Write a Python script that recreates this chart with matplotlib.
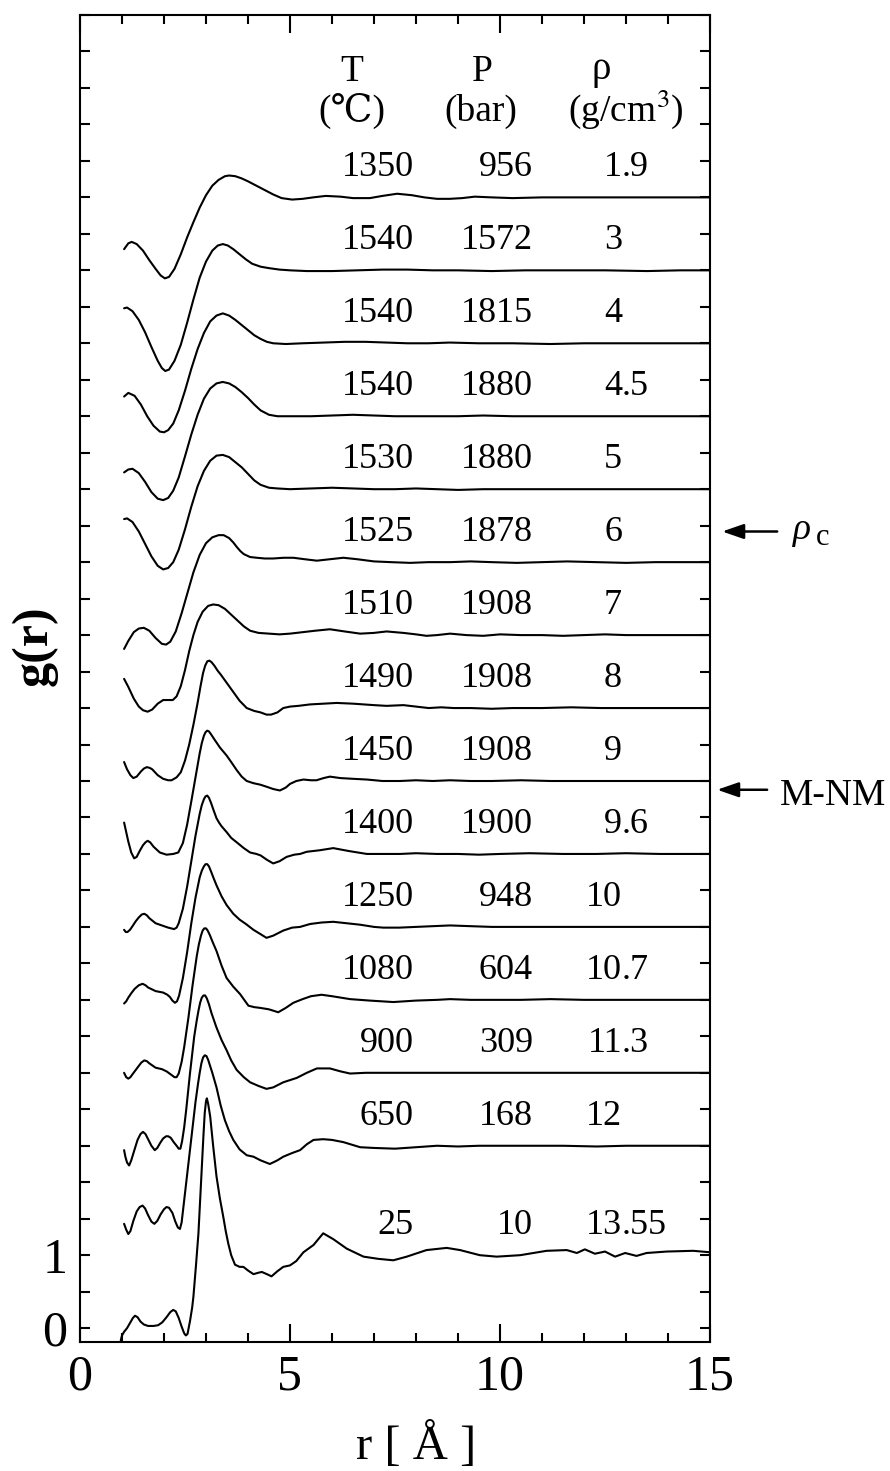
import numpy as np
import matplotlib
matplotlib.use("Agg")
import matplotlib.pyplot as plt
from matplotlib.ticker import MultipleLocator, FuncFormatter

plt.rcParams['font.family'] = ['Liberation Serif', 'DejaVu Serif']
plt.rcParams['mathtext.fontset'] = 'stix'

# ---------------- data ----------------
T_vals = ['1350', '1540', '1540', '1540', '1530', '1525', '1510', '1490',
          '1450', '1400', '1250', '1080', '900', '650', '25']
P_vals = ['956', '1572', '1815', '1880', '1880', '1878', '1908', '1908',
          '1908', '1900', '948', '604', '309', '168', '10']
rho_vals = ['1.9', '3', '4', '4.5', '5', '6', '7', '8', '9', '9.6', '10',
            '10.7', '11.3', '12', '13.55']
offsets = [14.5, 13.5, 12.5, 11.5, 10.5, 9.5, 8.5, 7.5, 6.5, 5.5, 4.5, 3.5,
           2.5, 1.5, 0.0]

g_1350 = [(1.05, 0.29), (1.15, 0.37), (1.23, 0.39), (1.35, 0.36), (1.5, 0.27),
          (1.65, 0.14), (1.8, 0.02), (1.92, -0.07), (2.02, -0.11), (2.12, -0.09),
          (2.25, 0.02), (2.4, 0.22), (2.55, 0.45), (2.7, 0.66), (2.85, 0.86),
          (3.0, 1.03), (3.15, 1.16), (3.3, 1.24), (3.45, 1.29), (3.55, 1.30),
          (3.7, 1.29), (3.85, 1.26), (4.0, 1.22), (4.2, 1.16), (4.4, 1.10),
          (4.6, 1.04), (4.8, 0.99), (5.05, 0.97), (5.3, 0.98), (5.55, 1.00),
          (5.85, 1.02), (6.2, 1.01), (6.5, 0.99), (6.9, 0.99), (7.2, 1.02),
          (7.55, 1.05), (7.9, 1.03), (8.2, 1.00), (8.5, 0.98), (8.8, 0.98),
          (9.1, 0.99), (9.4, 1.01), (9.8, 1.00), (10.3, 0.99), (11.0, 1.00),
          (11.8, 1.00), (12.5, 1.00), (13.2, 1.00), (14.0, 1.00), (15.0, 1.00)]

g_1540a = [(1.05, 0.48), (1.12, 0.49), (1.25, 0.44), (1.4, 0.32), (1.55, 0.15),
           (1.7, -0.05), (1.85, -0.24), (1.95, -0.34), (2.03, -0.38), (2.12, -0.36),
           (2.25, -0.24), (2.4, -0.02), (2.55, 0.28), (2.7, 0.60), (2.85, 0.90),
           (3.0, 1.12), (3.15, 1.27), (3.28, 1.34), (3.4, 1.36), (3.52, 1.34),
           (3.65, 1.29), (3.8, 1.22), (3.95, 1.15), (4.1, 1.09), (4.3, 1.05),
           (4.5, 1.03), (4.75, 1.01), (5.0, 1.00), (5.4, 0.99), (6.0, 0.99),
           (6.6, 1.00), (7.2, 1.01), (7.8, 1.01), (8.4, 1.00), (9.0, 1.00),
           (9.8, 0.99), (10.6, 1.00), (11.5, 1.00), (12.5, 1.00), (13.5, 0.99),
           (14.3, 1.00), (15.0, 1.00)]

g_1540b = [(1.05, 0.27), (1.15, 0.32), (1.3, 0.28), (1.45, 0.16), (1.6, 0.00),
           (1.75, -0.13), (1.9, -0.21), (2.0, -0.22), (2.1, -0.19), (2.22, -0.10),
           (2.35, 0.08), (2.5, 0.35), (2.65, 0.65), (2.8, 0.92), (2.95, 1.14),
           (3.1, 1.30), (3.25, 1.38), (3.4, 1.41), (3.55, 1.38), (3.7, 1.32),
           (3.85, 1.25), (4.0, 1.18), (4.15, 1.11), (4.3, 1.06), (4.45, 1.02),
           (4.6, 1.00), (4.9, 0.99), (5.3, 1.00), (5.8, 1.01), (6.3, 1.02),
           (6.8, 1.02), (7.3, 1.01), (7.8, 1.00), (8.3, 1.00), (8.8, 1.01),
           (9.5, 1.00), (10.3, 1.00), (11.2, 0.99), (12.0, 1.00), (13.0, 1.00),
           (14.0, 1.00), (15.0, 1.00)]

g_1540c = [(1.05, 0.23), (1.15, 0.27), (1.25, 0.28), (1.4, 0.22), (1.55, 0.10),
           (1.7, -0.04), (1.85, -0.13), (1.98, -0.15), (2.1, -0.12), (2.22, -0.02),
           (2.35, 0.16), (2.5, 0.45), (2.65, 0.75), (2.8, 1.02), (2.95, 1.24),
           (3.1, 1.38), (3.25, 1.45), (3.4, 1.47), (3.55, 1.45), (3.7, 1.40),
           (3.85, 1.33), (4.0, 1.25), (4.15, 1.16), (4.3, 1.08), (4.5, 1.02),
           (4.7, 1.00), (5.0, 1.00), (5.5, 1.00), (6.0, 1.01), (6.5, 1.02),
           (7.0, 1.01), (7.5, 1.00), (8.0, 1.00), (8.5, 1.00), (9.0, 1.00),
           (9.6, 1.01), (10.3, 1.00), (11.0, 1.00), (12.0, 1.00), (13.0, 1.00),
           (14.0, 1.00), (15.0, 1.00)]

g_1530 = [(1.05, 0.59), (1.12, 0.60), (1.25, 0.55), (1.4, 0.42), (1.55, 0.25),
          (1.7, 0.08), (1.85, -0.05), (1.98, -0.10), (2.1, -0.08), (2.22, 0.00),
          (2.35, 0.17), (2.5, 0.45), (2.65, 0.76), (2.8, 1.04), (2.95, 1.25),
          (3.1, 1.39), (3.25, 1.46), (3.4, 1.47), (3.55, 1.44), (3.7, 1.37),
          (3.85, 1.30), (4.0, 1.21), (4.15, 1.12), (4.3, 1.06), (4.5, 1.02),
          (4.7, 1.01), (5.0, 1.00), (5.5, 1.01), (6.0, 1.02), (6.5, 1.01),
          (7.0, 1.00), (7.5, 1.00), (8.0, 1.01), (8.5, 1.00), (9.0, 0.99),
          (9.6, 1.00), (10.3, 1.00), (11.0, 1.00), (12.0, 1.00), (13.0, 1.00),
          (14.0, 1.00), (15.0, 1.00)]

g_1525 = [(1.05, -0.19), (1.15, -0.08), (1.28, 0.04), (1.4, 0.09), (1.52, 0.10),
          (1.65, 0.06), (1.8, -0.04), (1.95, -0.12), (2.05, -0.13), (2.15, -0.09),
          (2.28, 0.05), (2.42, 0.30), (2.56, 0.58), (2.7, 0.86), (2.85, 1.10),
          (3.0, 1.26), (3.15, 1.34), (3.3, 1.37), (3.42, 1.37), (3.55, 1.33),
          (3.65, 1.27), (3.73, 1.21), (3.82, 1.15), (3.9, 1.11), (4.05, 1.07),
          (4.21, 1.06), (4.4, 1.05),
          (4.6, 1.05), (4.85, 1.06), (5.08, 1.06), (5.35, 1.04), (5.64, 1.02),
          (5.95, 1.04), (6.27, 1.06), (6.6, 1.04), (7.0, 1.01), (7.4, 1.00),
          (7.86, 0.99), (8.3, 1.00), (8.81, 1.00), (9.3, 1.01), (9.8, 1.00),
          (10.4, 0.99), (11.0, 1.00), (11.6, 1.01), (12.3, 1.00), (13.0, 0.99),
          (13.7, 1.00), (14.4, 1.00), (15.0, 1.00)]

g_1510 = [(1.05, 0.40), (1.15, 0.29), (1.28, 0.13), (1.4, 0.02), (1.5, -0.03),
          (1.61, -0.05), (1.72, -0.02), (1.85, 0.06), (1.98, 0.11), (2.1, 0.11),
          (2.21, 0.11), (2.3, 0.16), (2.4, 0.30), (2.5, 0.52), (2.6, 0.78),
          (2.7, 1.00), (2.8, 1.18), (2.92, 1.32), (3.05, 1.40), (3.17, 1.42),
          (3.3, 1.41), (3.45, 1.36), (3.6, 1.28), (3.75, 1.20), (3.9, 1.12),
          (4.05, 1.06), (4.25, 1.03), (4.5, 1.02), (4.75, 1.01), (5.0, 1.02),
          (5.3, 1.04), (5.6, 1.06), (5.95, 1.08), (6.3, 1.05), (6.67, 1.02),
          (7.0, 1.03), (7.3, 1.05), (7.7, 1.03), (8.0, 1.01), (8.25, 0.99),
          (8.5, 1.00), (8.81, 1.02), (9.2, 1.00), (9.6, 0.99), (10.0, 1.01),
          (10.5, 1.00), (11.0, 1.00), (11.5, 0.99), (12.0, 1.00), (12.5, 1.01),
          (13.0, 1.00), (13.5, 1.00), (14.0, 1.00), (14.5, 1.00), (15.0, 1.00)]

g_1490 = [(1.05, 0.26), (1.12, 0.16), (1.2, 0.08), (1.27, 0.04), (1.35, 0.06),
          (1.45, 0.13), (1.52, 0.17), (1.59, 0.19), (1.66, 0.18), (1.72, 0.16),
          (1.85, 0.08), (1.98, 0.03),
          (2.1, 0.01), (2.18, 0.01), (2.3, 0.05), (2.4, 0.12), (2.5, 0.28),
          (2.6, 0.50), (2.7, 0.77), (2.8, 1.07), (2.87, 1.30), (2.93, 1.48),
          (2.98, 1.58), (3.03, 1.64), (3.08, 1.65), (3.13, 1.63), (3.2, 1.58),
          (3.28, 1.51), (3.35, 1.46), (3.5, 1.34),
          (3.65, 1.22), (3.8, 1.10), (3.97, 1.00), (4.15, 0.96), (4.3, 0.94),
          (4.44, 0.91), (4.55, 0.91), (4.7, 0.94), (4.84, 1.00), (5.0, 1.02),
          (5.2, 1.03), (5.48, 1.05), (5.8, 1.06), (6.11, 1.07), (6.5, 1.06),
          (7.0, 1.04), (7.3, 1.03), (7.7, 1.04), (8.0, 1.02), (8.3, 1.00),
          (8.6, 1.01), (8.9, 1.00), (9.3, 1.00), (9.8, 0.99), (10.3, 1.00),
          (11.0, 1.00), (11.7, 1.01), (12.4, 1.00), (13.2, 1.00), (14.0, 1.00),
          (15.0, 1.00)]

g_1450 = [(1.05, 0.43), (1.1, 0.30), (1.15, 0.17), (1.22, 0.02), (1.29, -0.06),
          (1.35, -0.04), (1.42, 0.04), (1.5, 0.12), (1.56, 0.16),
          (1.61, 0.18), (1.67, 0.16), (1.75, 0.10), (1.9, 0.02), (2.06, -0.01),
          (2.22, 0.00), (2.34, 0.02), (2.45, 0.15), (2.55, 0.40), (2.65, 0.72),
          (2.75, 1.05), (2.85, 1.38), (2.9, 1.52), (2.95, 1.62), (2.99, 1.67),
          (3.03, 1.69), (3.07, 1.68), (3.12, 1.64), (3.2, 1.57),
          (3.33, 1.46), (3.49, 1.35), (3.6, 1.26), (3.73, 1.15), (3.85, 1.06),
          (3.97, 1.00), (4.13, 0.97), (4.29, 0.95), (4.45, 0.92), (4.6, 0.89),
          (4.76, 0.87), (4.9, 0.91), (5.0, 0.96), (5.15, 1.00), (5.32, 1.02),
          (5.5, 1.01), (5.63, 1.01), (5.8, 1.04), (5.95, 1.06), (6.2, 1.04),
          (6.5, 1.03), (6.83, 1.02), (7.2, 1.00), (7.62, 1.00), (8.0, 1.01),
          (8.4, 1.00), (8.81, 1.01), (9.3, 1.00), (9.8, 1.00), (10.5, 1.01),
          (11.2, 1.00), (12.0, 1.00), (12.8, 1.00), (13.6, 1.00), (14.3, 1.00),
          (15.0, 1.00)]

g_1400 = [(1.05, -0.04), (1.09, -0.07), (1.13, -0.07), (1.19, -0.04), (1.25, 0.01),
          (1.33, 0.08), (1.4, 0.13), (1.47, 0.17), (1.53, 0.18), (1.59, 0.16),
          (1.65, 0.12), (1.8, 0.05), (1.95, 0.02), (2.1, -0.01), (2.24, -0.03),
          (2.3, -0.01), (2.35, 0.05), (2.45, 0.25), (2.55, 0.55), (2.65, 0.90),
          (2.75, 1.25), (2.85, 1.55), (2.9, 1.67), (2.95, 1.75), (2.99, 1.79),
          (3.03, 1.80), (3.07, 1.77), (3.12, 1.70), (3.18, 1.60), (3.25, 1.49),
          (3.31, 1.43), (3.37, 1.38), (3.49, 1.30), (3.6, 1.22), (3.73, 1.16),
          (3.9, 1.08), (4.05, 1.02), (4.2, 1.00), (4.3, 0.98), (4.45, 0.92),
          (4.6, 0.87), (4.75, 0.90), (4.92, 0.96), (5.1, 0.99), (5.24, 1.00),
          (5.4, 1.03), (5.7, 1.05), (6.03, 1.08), (6.4, 1.04), (6.83, 1.00),
          (7.2, 1.00), (7.62, 1.00), (8.0, 1.01), (8.5, 1.00), (9.0, 1.00),
          (9.5, 0.99), (10.0, 1.00), (10.7, 1.01), (11.5, 1.00), (12.3, 1.00),
          (13.0, 1.01), (13.8, 1.00), (14.5, 1.00), (15.0, 1.00)]

g_1250 = [(1.05, -0.05), (1.1, -0.02), (1.15, 0.03), (1.22, 0.09), (1.3, 0.15),
          (1.4, 0.20), (1.49, 0.22), (1.56, 0.20), (1.62, 0.17), (1.8, 0.12),
          (1.98, 0.10), (2.08, 0.07), (2.14, 0.04), (2.2, -0.01), (2.26, -0.04),
          (2.31, -0.02), (2.36, 0.06), (2.45, 0.30), (2.55, 0.65), (2.65, 1.05),
          (2.75, 1.40), (2.85, 1.68), (2.9, 1.77), (2.95, 1.83), (2.99, 1.86),
          (3.03, 1.86), (3.07, 1.83), (3.12, 1.76), (3.18, 1.67), (3.25, 1.57),
          (3.37, 1.42), (3.49, 1.30), (3.65, 1.18), (3.8, 1.10), (3.95, 1.04),
          (4.13, 0.96), (4.3, 0.90), (4.44, 0.85), (4.6, 0.88), (4.84, 0.95),
          (5.05, 0.99), (5.24, 1.00), (5.48, 1.04), (5.75, 1.06), (6.03, 1.07),
          (6.35, 1.05), (6.67, 1.03), (7.0, 1.00), (7.22, 0.99), (7.6, 0.99),
          (8.0, 1.00), (8.4, 1.01), (8.81, 1.02), (9.3, 1.01), (9.8, 1.00),
          (10.4, 1.00), (11.0, 1.00), (11.7, 1.00), (12.4, 1.00), (13.2, 1.00),
          (14.0, 1.00), (15.0, 1.00)]

g_1080 = [(1.05, 0.00), (1.1, -0.06), (1.15, -0.08), (1.2, -0.06), (1.25, -0.02),
          (1.38, 0.08), (1.46, 0.14), (1.53, 0.17), (1.59, 0.16),
          (1.65, 0.13), (1.8, 0.07), (1.95, 0.05), (2.06, 0.02), (2.18, -0.03),
          (2.25, -0.06), (2.3, -0.06), (2.35, -0.01), (2.42, 0.15), (2.48, 0.35),
          (2.58, 0.75), (2.68, 1.20), (2.78, 1.60), (2.83, 1.76), (2.88, 1.88),
          (2.92, 1.95), (2.96, 1.98), (3.0, 1.98), (3.04, 1.95), (3.09, 1.89),
          (3.16, 1.79), (3.25, 1.67), (3.37, 1.47), (3.49, 1.30), (3.65, 1.18),
          (3.81, 1.08), (4.01, 0.92), (4.15, 0.90), (4.29, 0.89), (4.5, 0.87),
          (4.72, 0.83), (4.9, 0.89), (5.08, 0.96), (5.3, 1.01), (5.5, 1.05),
          (5.75, 1.07), (6.0, 1.05), (6.43, 1.01), (6.9, 0.99), (7.46, 0.97),
          (8.0, 0.99), (8.5, 1.00), (8.81, 1.01), (9.3, 1.00), (9.8, 1.00),
          (10.5, 1.00), (11.2, 1.01), (12.0, 1.00), (12.8, 1.00), (13.6, 1.00),
          (14.3, 1.00), (15.0, 1.00)]

g_900 = [(1.05, -0.06), (1.08, -0.15), (1.12, -0.23), (1.17, -0.27), (1.22, -0.2),
         (1.3, -0.05), (1.37, 0.08), (1.44, 0.16), (1.5, 0.19), (1.56, 0.16),
         (1.63, 0.08), (1.7, 0.00), (1.78, -0.06), (1.84, -0.03), (1.91, 0.04),
         (1.98, 0.10), (2.05, 0.13), (2.1, 0.13), (2.16, 0.11), (2.23, 0.05),
         (2.3, 0.00), (2.35, -0.04), (2.39, -0.04), (2.43, 0.06), (2.48, 0.25),
         (2.53, 0.50), (2.62, 1.00), (2.72, 1.50), (2.78, 1.72), (2.82, 1.85),
         (2.86, 1.96), (2.9, 2.03), (2.94, 2.06), (2.98, 2.06), (3.02, 2.02),
         (3.07, 1.94), (3.13, 1.82), (3.25, 1.62), (3.37, 1.45), (3.49, 1.31),
         (3.6, 1.17), (3.73, 1.04), (3.9, 0.94), (4.05, 0.87), (4.25, 0.82),
         (4.44, 0.78), (4.6, 0.80), (4.84, 0.87), (5.0, 0.90), (5.16, 0.93),
         (5.4, 1.00), (5.64, 1.06), (5.95, 1.06), (6.2, 1.02), (6.43, 0.99),
         (6.8, 1.00), (7.3, 1.00), (7.8, 1.00), (8.3, 1.00), (8.81, 1.00),
         (9.3, 1.00), (9.8, 1.00), (10.5, 1.00), (11.2, 1.00), (12.0, 1.00),
         (12.8, 1.00), (13.6, 1.00), (14.3, 1.00), (15.0, 1.00)]

g_650 = [(1.05, -0.07), (1.1, -0.15), (1.15, -0.21), (1.2, -0.17), (1.27, -0.03),
         (1.35, 0.10), (1.42, 0.16), (1.49, 0.18), (1.55, 0.14), (1.62, 0.05),
         (1.7, -0.04), (1.77, -0.07), (1.84, -0.03), (1.92, 0.06), (2.0, 0.13),
         (2.06, 0.16), (2.12, 0.15), (2.2, 0.08), (2.27, -0.04), (2.33, -0.12),
         (2.38, -0.14), (2.42, -0.05), (2.47, 0.20), (2.55, 0.60), (2.65, 1.10),
         (2.75, 1.60), (2.81, 1.85), (2.85, 2.00), (2.89, 2.13), (2.93, 2.21),
         (2.97, 2.24), (3.01, 2.23), (3.05, 2.18), (3.1, 2.09), (3.15, 2.00),
         (3.25, 1.80), (3.35, 1.55), (3.45, 1.35), (3.55, 1.20), (3.65, 1.08),
         (3.8, 0.95), (3.97, 0.87), (4.13, 0.85), (4.3, 0.80), (4.52, 0.75),
         (4.7, 0.80), (4.84, 0.85), (5.05, 0.90), (5.24, 0.94), (5.4, 1.02),
         (5.56, 1.08), (5.79, 1.09), (6.0, 1.08), (6.27, 1.05), (6.67, 0.98),
         (7.0, 0.97), (7.5, 0.96), (8.0, 0.98), (8.5, 1.00), (9.0, 0.99),
         (9.5, 1.00), (10.0, 1.00), (10.7, 1.00), (11.5, 1.00), (12.3, 0.99),
         (13.0, 1.00), (13.8, 1.00), (14.5, 1.00), (15.0, 1.00)]

g_25 = [(0.97, -0.17), (1.0, -0.10), (1.05, -0.05), (1.12, 0.00), (1.2, 0.08),
        (1.26, 0.14), (1.31, 0.17), (1.37, 0.15), (1.44, 0.09), (1.52, 0.05),
        (1.62, 0.03), (1.75, 0.03), (1.86, 0.04), (1.96, 0.08), (2.06, 0.15),
        (2.15, 0.22), (2.22, 0.25), (2.28, 0.23), (2.35, 0.14), (2.42, 0.02),
        (2.48, -0.07), (2.52, -0.10), (2.56, -0.08), (2.62, 0.10), (2.67, 0.28),
        (2.7, 0.43), (2.76, 0.85), (2.82, 1.30), (2.86, 1.75), (2.9, 2.20),
        (2.94, 2.65), (2.97, 2.95), (3.0, 3.11), (3.02, 3.15), (3.05, 3.08),
        (3.1, 2.90), (3.17, 2.50), (3.25, 2.08), (3.33, 1.78), (3.41, 1.53),
        (3.47, 1.33), (3.53, 1.16), (3.6, 1.00), (3.69, 0.87), (3.8, 0.84),
        (3.89, 0.84), (4.0, 0.79), (4.13, 0.74), (4.25, 0.76), (4.33, 0.77),
        (4.45, 0.74), (4.56, 0.71), (4.7, 0.78), (4.84, 0.84), (5.0, 0.86),
        (5.15, 0.92), (5.32, 1.04), (5.56, 1.14), (5.79, 1.30), (6.03, 1.22),
        (6.35, 1.09), (6.75, 0.98), (7.1, 0.95), (7.46, 0.93), (7.78, 0.98),
        (8.25, 1.07), (8.73, 1.10), (9.05, 1.07), (9.52, 1.00), (9.92, 0.98),
        (10.48, 1.00), (11.11, 1.06), (11.59, 1.07), (11.83, 1.03), (12.02, 1.08),
        (12.26, 1.02), (12.5, 1.05), (12.74, 0.98), (12.98, 1.03), (13.25, 0.99),
        (13.49, 1.03), (13.97, 1.05), (14.6, 1.06), (15.0, 1.04)]

curves = [g_1350, g_1540a, g_1540b, g_1540c, g_1530, g_1525, g_1510, g_1490,
          g_1450, g_1400, g_1250, g_1080, g_900, g_650, g_25]

# ---------------- figure ----------------
W, H = 890, 1471
fig = plt.figure(figsize=(W / 100, H / 100), dpi=100)
ax = fig.add_axes([80 / W, (H - 1342) / H, 630 / W, 1327 / H])

for pts, off in zip(curves, offsets):
    arr = np.array(pts)
    ax.plot(arr[:, 0], arr[:, 1] + off, color='black', lw=1.5,
            solid_joinstyle='round', solid_capstyle='round')

ax.set_xlim(0, 15)
ax.set_ylim(-0.19, 18.0)

ax.xaxis.set_major_locator(MultipleLocator(5))
ax.xaxis.set_minor_locator(MultipleLocator(1))
ax.yaxis.set_major_locator(MultipleLocator(0.5))
ax.yaxis.set_major_formatter(FuncFormatter(
    lambda v, p: '0' if abs(v) < 1e-6 else ('1' if abs(v - 1) < 1e-6 else '')))
ax.xaxis.set_major_formatter(FuncFormatter(lambda v, p: '%d' % round(v)))

ax.tick_params(which='both', direction='in', top=True, right=True,
               width=1.5, colors='black', labelsize=36)
ax.tick_params(axis='x', which='major', length=12.7, pad=9)
ax.tick_params(axis='x', which='minor', length=6.5)
ax.tick_params(axis='y', which='major', length=7.2, pad=9)
for s in ax.spines.values():
    s.set_linewidth(1.5)

ax.set_xlabel('r [ Å ]', fontsize=35)
ax.xaxis.set_label_coords((416 - 80) / 630, -0.060)
ax.set_ylabel('g(r)', fontsize=36, fontweight='bold')
ax.yaxis.set_label_coords(-0.036, (1342 - 646) / 1327)

# table headers
hdr_y1 = 17.09
hdr_y2 = 16.55
fs_h = 27
ax.text(6.476, hdr_y1, 'T', ha='center', va='baseline', fontsize=fs_h)
ax.text(6.476, hdr_y2, '(℃)', ha='center', va='baseline', fontsize=fs_h)
ax.text(9.571, hdr_y1, 'P', ha='center', va='baseline', fontsize=fs_h)
ax.text(9.548, hdr_y2, '(bar)', ha='center', va='baseline', fontsize=fs_h)
ax.text(12.405, hdr_y1 + 0.03, 'ρ', ha='center', va='baseline', fontsize=28)
ax.text(13.0, hdr_y2, '(g/cm$^{3}$)', ha='center', va='baseline', fontsize=fs_h)

# row labels
fs_r = 26
for t, p, rho, off in zip(T_vals, P_vals, rho_vals, offsets):
    yb = off + 1.29
    ax.text(7.952, yb, t, ha='right', va='baseline', fontsize=fs_r)
    ax.text(10.786, yb, p, ha='right', va='baseline', fontsize=fs_r)
    if '.' in rho:
        ip, fp = rho.split('.')
        ax.text(12.905, yb, ip, ha='right', va='baseline', fontsize=fs_r)
        ax.text(12.905, yb, '.' + fp, ha='left', va='baseline', fontsize=fs_r)
    else:
        ax.text(12.905, yb, rho, ha='right', va='baseline', fontsize=fs_r)

# annotations on the right
arrow_kw = dict(arrowstyle='-|>,head_length=1.3,head_width=0.45',
                color='black', lw=1.8, shrinkA=0, shrinkB=0)
ax.annotate('', xy=(15.29, 10.92), xytext=(16.6, 10.92),
            arrowprops=arrow_kw, annotation_clip=False)
ax.annotate('', xy=(15.17, 7.38), xytext=(16.36, 7.38),
            arrowprops=arrow_kw, annotation_clip=False)
ax.text(16.98, 10.82, 'ρ', fontsize=27, fontstyle='italic', ha='left',
        va='baseline', clip_on=False)
ax.text(17.52, 10.74, 'c', fontsize=22, ha='left', va='baseline', clip_on=False)
ax.text(16.67, 7.17, 'M-NM', fontsize=27, ha='left', va='baseline',
        clip_on=False)

fig.savefig('out.png', dpi=100)
